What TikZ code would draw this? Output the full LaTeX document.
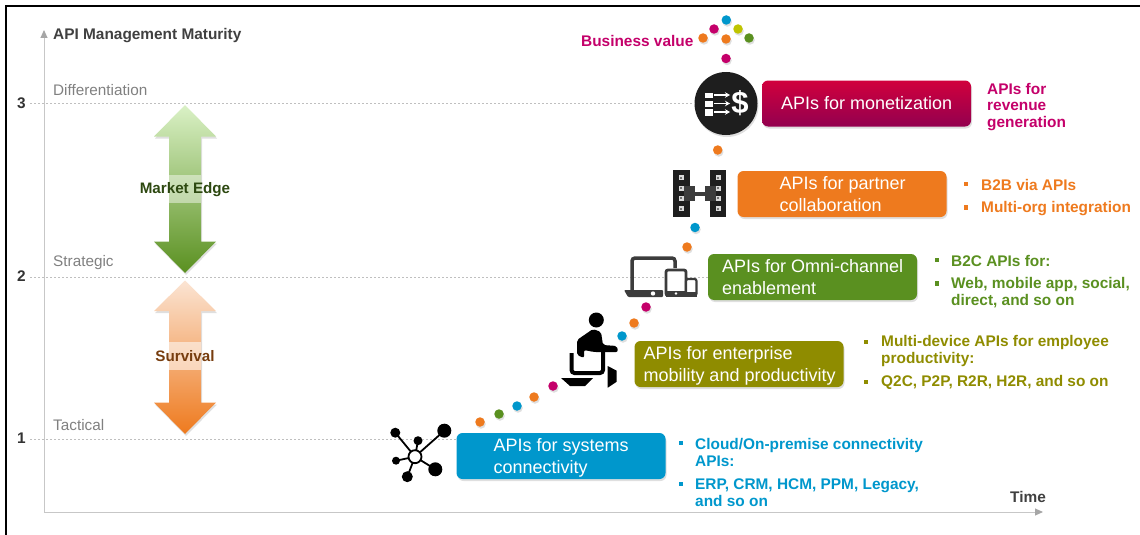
\documentclass[tikz,border=0pt]{standalone}
\usepackage{fontspec}
\setmainfont{Liberation Sans}
\usepackage{xcolor}
\usetikzlibrary{positioning,shadows,arrows.meta}

\definecolor{apipink}{HTML}{C4006A}
\definecolor{apiorange}{HTML}{EE7A1E}
\definecolor{apigreen}{HTML}{5A9020}
\definecolor{apiolive}{HTML}{8F8C00}
\definecolor{apiblue}{HTML}{0097CC}
\definecolor{apilime}{HTML}{BFC400}
\definecolor{icondark}{HTML}{1E1E1E}
\definecolor{icongray}{HTML}{3C3C3C}

\tikzset{
        softshadow/.style={drop shadow={shadow xshift=1pt,shadow yshift=-2pt,opacity=.25}},
        apibox/.style={rounded corners=6pt, minimum width=209pt, minimum height=46pt, inner sep=0pt, softshadow},
        boxtext/.style={text=white, align=left, inner sep=0pt, font=\fontsize{18}{22}\selectfont},
        sidetext/.style={align=left, anchor=west, inner sep=0pt, font=\fontsize{15.4}{16.5}\selectfont\bfseries},
        tick/.style={sidetext, text=black!80},
        level/.style={sidetext, font=\fontsize{15.3}{16.5}\selectfont, text=black!50},
        bulletmark/.style={inner sep=0pt, minimum size=4.5pt},
        apidot/.style={circle, inner sep=0pt, minimum size=9.5pt, softshadow},
        gridline/.style={black!25, dash pattern=on 2pt off 2pt, line width=.7pt},
        axisline/.style={black!22, line width=1pt, -{Triangle[width=7pt,length=8pt,color=black!35]}},
        arrowlabel/.style={inner sep=0pt, font=\fontsize{15.2}{17}\selectfont\bfseries},
}

\begin{document}
\begin{tikzpicture}[x=1pt,y=-1pt]
        \useasboundingbox (0,0) rectangle (1140,535);

        % frame and axes
        \coordinate (framebl) at (6,535);
        \coordinate (frametl) at (6,6);
        \coordinate (frametr) at (1140,6);
        \draw[line width=2.4pt] (framebl) -- (frametl) -- (frametr);

        \coordinate (origin) at (44,512);
        \coordinate (ytop) at (44,30);
        \coordinate (xend) at (1043,512);
        \draw[axisline] (origin) -- (ytop);
        \draw[axisline] (origin) -- (xend);

        \node[sidetext, text=black!75] (ylabel) at (53,36) {API Management Maturity};
        \node[sidetext, text=black!75] (xlabel) at (1010,497) {Time};

        % boxes
        \node[apibox, shade, top color=apipink!60!red!95!black, bottom color=apipink!75!black] (monbox) at (866.5,103.5) {};
        \node[apibox, fill=apiorange] (partnerbox) at (842,194) {};
        \node[apibox, fill=apigreen] (omnibox) at (812.5,277) {};
        \node[apibox, fill=apiolive] (entbox) at (739,364) {};
        \node[apibox, fill=apiblue] (sysbox) at (561,456) {};

        \node[boxtext, right=19pt of monbox.west] (montext) {APIs for monetization};
        \node[boxtext, right=42pt of partnerbox.west] (partnertext) {APIs for partner\\collaboration};
        \node[boxtext, right=14pt of omnibox.west] (omnitext) {APIs for Omni-channel\\enablement};
        \node[boxtext, right=9pt of entbox.west, yshift=-2pt] (enttext) {APIs for enterprise\\mobility and productivity};
        \node[boxtext, right=37pt of sysbox.west, yshift=-2pt] (systext) {APIs for systems\\connectivity};

        % money icon
        \node[circle, fill=icondark, minimum size=63pt, inner sep=0pt, softshadow] (moneyicon) at (726,103.5) {};

        % levels
        \coordinate (grid3) at (30,103.5);
        \coordinate (grid2) at (30,277);
        \coordinate (grid1) at (30,439.5);
        \draw[gridline] (grid3) -- (grid3 -| moneyicon.west);
        \draw[gridline] (grid2) -- (grid2 -| omnibox.west);
        \draw[gridline] (grid1) -- (grid1 -| sysbox.west);

        \node[tick] (tick3) at (17,103) {3};
        \node[tick] (tick2) at (17,276) {2};
        \node[tick] (tick1) at (17,438) {1};
        \node[level] (levdiff) at (53,90.5) {Differentiation};
        \node[level] (levstrat) at (53,263) {Strategic};
        \node[level] (levtact) at (53,425.5) {Tactical};

        % big arrows
        \definecolor{edgetop}{HTML}{DAF1C6}
        \definecolor{edgemid}{HTML}{A6DE66}
        \definecolor{survtop}{HTML}{FBE4D3}
        \definecolor{survmid}{HTML}{F5B88A}
        \shade[top color=edgetop, middle color=edgemid, bottom color=apigreen, softshadow]
                (185,105) -- (216,136.5) -- (201,136.5) -- (201,241.5) -- (216,241.5) -- (185,273)
                -- (154,241.5) -- (169,241.5) -- (169,136.5) -- (154,136.5) -- cycle;
        \fill[white, opacity=.45] (169,175) rectangle (201,203);
        \node[arrowlabel, text=apigreen!50!black] (edgelabel) at (185,189.5) {Market Edge};

        \shade[top color=survtop, middle color=survmid, bottom color=apiorange, softshadow]
                (185,280.5) -- (216,311) -- (201,311) -- (201,402.5) -- (216,402.5) -- (185,434)
                -- (154,402.5) -- (169,402.5) -- (169,311) -- (154,311) -- cycle;
        \fill[white, opacity=.55] (169,342) rectangle (201,370);
        \node[arrowlabel, text=apiorange!50!black] (survlabel) at (185,356.5) {Survival};

        % dots
        \foreach \x/\y/\c [count=\i] in {
                726.3/20/apiblue, 714/29/apipink, 738/29/apilime, 703/38/apiorange,
                726/39/apiorange, 749/38/apigreen, 726/58.5/apipink, 717.7/150/apiorange,
                695/227.5/apiblue, 687/247/apiorange, 646/307/apipink, 634/323/apiorange,
                622/336/apiblue, 553/386/apipink, 534/397/apiorange, 517/406/apiblue,
                499/414/apigreen, 480/422/apiorange}
                \node[apidot, fill=\c] (dot\i) at (\x,\y) {};
        \node[sidetext, text=apipink] (bizvalue) at (581,40.5) {Business value};

        % inside of the money icon
        \foreach \y/\h in {95/5, 103.5/6, 112/7} {
                \fill[white] (705,\y-\h/2) rectangle (713,\y+\h/2);
                \draw[white, line width=1.5pt, -{Stealth[length=5pt,width=5.5pt]}] (714,\y) -- (730,\y);
        }
        \node[inner sep=0pt, text=white, font=\fontsize{31}{31}\selectfont\bfseries] (dollar) at (740,103) {\$};

        % partner icon
        \fill[icondark] (673,170) rectangle (689.5,217);
        \fill[icondark] (710,170) rectangle (726,217);
        \fill[icongray] (684,186) rectangle (695,201);
        \fill[icongray] (705,186) rectangle (716,201);
        \fill[icongray] (695,192) rectangle (705,196);
        \foreach \y in {177.5,188,198,208.5} {
                \fill[black!15] (678.5,\y-2.5) rectangle (683.5,\y+2.5);
                \fill[black!15] (715.5,\y-2.5) rectangle (720.5,\y+2.5);
                \fill[black!55] (680,\y-1) rectangle (682,\y+1);
                \fill[black!55] (717,\y-1) rectangle (719,\y+1);
        }

        % devices icon
        \draw[icongray, line width=3.5pt, rounded corners=3pt] (632,291) -- (632,258) -- (675,258) -- (675,268);
        \fill[icongray, rounded corners=1pt] (624,290) -- (663,290) -- (663,297) -- (628,297) -- cycle;
        \fill[white] (653,293.5) circle (2.2pt);
        \draw[icongray, line width=2.8pt, rounded corners=2pt, fill=white] (666,270) rectangle (686,295.5);
        \fill[icongray] (666,290.5) rectangle (686,296.5);
        \fill[white] (676,293.5) circle (1.4pt);
        \draw[icongray, line width=2.2pt, rounded corners=2pt, fill=white] (686,279) rectangle (696.5,295.5);
        \fill[icongray] (686,292) rectangle (696.5,296.5);

        % person icon
        \fill[black] (596.3,320) circle (7.5pt);
        \fill[black, rounded corners=2pt] (577,340) -- (593,329) -- (601,332) -- (603,345) -- (617,346)
                -- (618,352) -- (594,352) -- (584,350) -- (584,358) -- (577,355) -- cycle;
        \draw[black, line width=4pt, rounded corners=3pt] (571.5,353) -- (571.5,373) -- (603,373) -- (603,352);
        \fill[black] (561,378) -- (593,378) -- (585,386) -- (570,386) -- cycle;
        \fill[black] (607.7,366) -- (616.7,370.7) -- (616.7,381.7) -- (607.7,387.7) -- cycle;

        % network icon
        \foreach \x/\y/\r [count=\i] in {395.3/432.7/5, 418/440.7/4.5, 444.3/430.7/7, 396/460.7/4, 435.3/469.3/7, 407.3/476.7/5.5} {
                \draw[black, line width=1.8pt] (415,456.7) -- (\x,\y);
                \fill[black] (\x,\y) circle (\r pt);
        }
        \draw[black, line width=1.8pt, fill=white] (415,456.7) circle (6.5pt);

        % side texts
        \node[sidetext, text=apipink] (monside) at (987,107) {APIs for\\revenue\\generation};

        \node[bulletmark, fill=apiorange] (pb1) at (966,184) {};
        \node[sidetext, text=apiorange] (pt1) at (981,185) {B2B via APIs};
        \node[bulletmark, fill=apiorange] (pb2) at (966,207.5) {};
        \node[sidetext, text=apiorange] (pt2) at (981,208.5) {Multi-org integration};

        \node[bulletmark, fill=apigreen] (ob1) at (937,260) {};
        \node[sidetext, text=apigreen] (ot1) at (951,261) {B2C APIs for:};
        \node[bulletmark, fill=apigreen] (ob2) at (937,283.5) {};
        \node[sidetext, text=apigreen] (ot2) at (951,292.5) {Web, mobile app, social,\\direct, and so on};

        \node[bulletmark, fill=apiolive] (eb1) at (866,342) {};
        \node[sidetext, text=apiolive] (et1) at (881,351) {Multi-device APIs for employee\\productivity:};
        \node[bulletmark, fill=apiolive] (eb2) at (866,382) {};
        \node[sidetext, text=apiolive] (et2) at (881,382.5) {Q2C, P2P, R2R, H2R, and so on};

        \node[bulletmark, fill=apiblue] (sb1) at (681,443) {};
        \node[sidetext, text=apiblue] (st1) at (695,452.5) {Cloud/On-premise connectivity\\APIs:};
        \node[bulletmark, fill=apiblue] (sb2) at (681,484) {};
        \node[sidetext, text=apiblue] (st2) at (695,492.5) {ERP, CRM, HCM, PPM, Legacy,\\and so on};
\end{tikzpicture}
\end{document}
